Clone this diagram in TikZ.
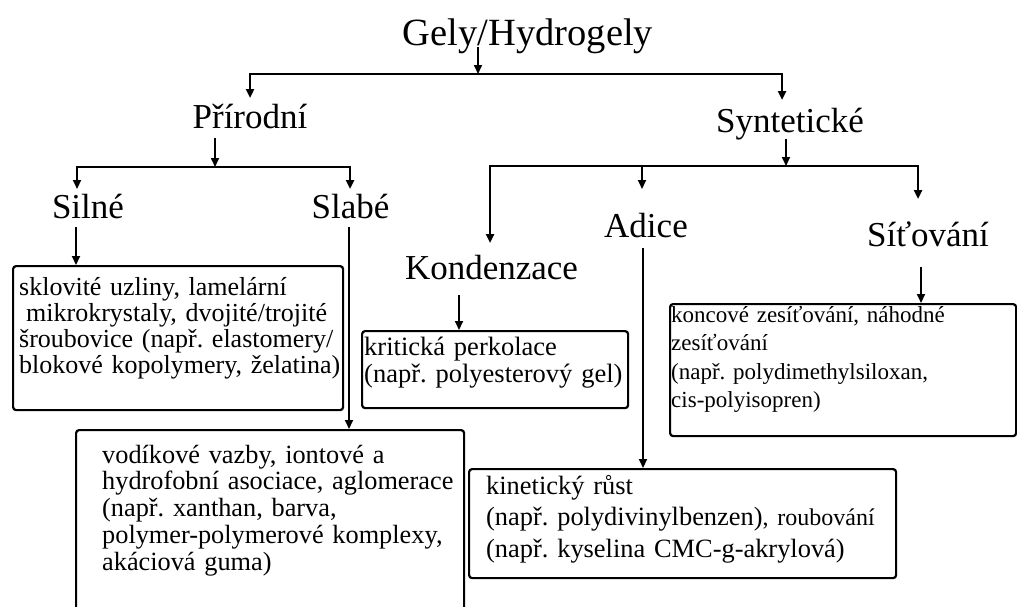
\documentclass[tikz,border=0pt]{standalone}
\usepackage{fontspec}
\setmainfont{Liberation Serif}
\usetikzlibrary{arrows.meta}
\begin{document}
\begin{tikzpicture}[x=1pt,y=-1pt,
  lbl/.style={inner sep=0pt, anchor=base, font=\fontsize{35}{40}\selectfont},
  boxnode/.style={draw, line width=2.2pt, rounded corners=3pt, anchor=north west, inner sep=0pt},
  txt/.style={inner sep=0pt, anchor=base west, align=left, text width=420pt},
  tip/.style={-{Triangle[length=9pt,width=8pt]}},
  arr/.style={line width=2pt, tip},
  arrthin/.style={line width=1.6pt, tip},
  bar/.style={line width=2.6pt, {Triangle[length=9pt,width=8pt]}-{Triangle[length=9pt,width=8pt]}},
  barline/.style={line width=2.6pt}]
\useasboundingbox (0,0) rectangle (1017,606);
\begin{scope}
\clip (0,0) rectangle (1017,606);
\frenchspacing
% labels
\node[lbl, font=\fontsize{38.5}{44}\selectfont] (gely) at (528,45) {Gely/Hydrogely};
\node[lbl] (pri) at (250,128) {Přírodní};
\node[lbl] (syn) at (790,132) {Syntetické};
\node[lbl] (silne) at (88,218) {Silné};
\node[lbl] (slabe) at (350.5,218) {Slabé};
\node[lbl] (kond) at (491.5,279) {Kondenzace};
\node[lbl] (adice) at (646,237) {Adice};
\node[lbl] (sit) at (928,246) {Síťování};
% boxes
\node[boxnode, minimum width=330pt, minimum height=144pt] (silnebox) at (12,265) {};
\node[boxnode, minimum width=388pt, minimum height=250pt] (slabebox) at (75,429) {};
\node[boxnode, minimum width=266pt, minimum height=77pt] (kondbox) at (361,330) {};
\node[boxnode, minimum width=346pt, minimum height=132pt] (sitbox) at (669,303) {};
\node[boxnode, minimum width=427pt, minimum height=109pt] (adicebox) at (468,468) {};
% box texts
\node[txt, font=\fontsize{26}{26}\selectfont] (silnetxt) at (19,295)
  {sklovité uzliny, lamelární\\\hspace*{7pt}mikrokrystaly, dvojité/trojité\\šroubovice (např. elastomery/\\blokové kopolymery, želatina)};
\node[txt, font=\fontsize{26.3}{26.8}\selectfont] (slabetxt) at (102,463)
  {vodíkové vazby, iontové a\\hydrofobní asociace, aglomerace\\(např. xanthan, barva,\\polymer-polymerové komplexy,\\akáciová guma)};
\node[txt, font=\fontsize{26.5}{27}\selectfont] (kondtxt) at (364,355)
  {kritická perkolace\\(např. polyesterový gel)};
\node[txt, font=\fontsize{23}{28.5}\selectfont] (sittxt) at (671,322)
  {koncové zesíťování, náhodné\\zesíťování\\(např. polydimethylsiloxan,\\cis-polyisopren)};
\node[txt, font=\fontsize{26.4}{31.5}\selectfont] (adicetxt) at (486,494)
  {kinetický růst\\(např. polydivinylbenzen){\fontsize{24}{31.5}\selectfont, roubování}\\(např. kyselina CMC-g-akrylová)};
% junction coordinates
\coordinate (g1) at (478,47);
\coordinate (b1l) at (250,74);
\coordinate (b1r) at (782,74);
\coordinate (p1) at (215,138);
\coordinate (b2l) at (77,167);
\coordinate (b2r) at (350,167);
\coordinate (s1) at (786,139);
\coordinate (b3l) at (490,166);
\coordinate (b3m) at (642,166);
\coordinate (b3r) at (918,166);
\coordinate (si1) at (76,227);
\coordinate (sl1) at (349,227);
\coordinate (k1) at (459,295);
\coordinate (a1) at (643,248);
\coordinate (t1) at (921,267);
% connectors
\draw[arrthin] (g1) -- (g1 |- b1l);
\draw[bar] (250,98) -- (b1l) -- (b1r) -- (782,100);
\draw[arrthin] (p1) -- (p1 |- b2l);
\draw[bar] (77,189) -- (b2l) -- (b2r) -- (350,189);
\draw[arrthin] (s1) -- (s1 |- b3l);
\draw[bar] (490,243) -- (b3l) -- (b3r) -- (918,199);
\draw[arr] (b3m) -- (642,189);
\draw[arr] (si1) -- (si1 |- silnebox.north);
\draw[arr] (sl1) -- (sl1 |- slabebox.north);
\draw[arr] (k1) -- (k1 |- kondbox.north);
\draw[arr] (a1) -- (a1 |- adicebox.north);
\draw[arr] (t1) -- (t1 |- sitbox.north);
\end{scope}
\end{tikzpicture}
\end{document}
